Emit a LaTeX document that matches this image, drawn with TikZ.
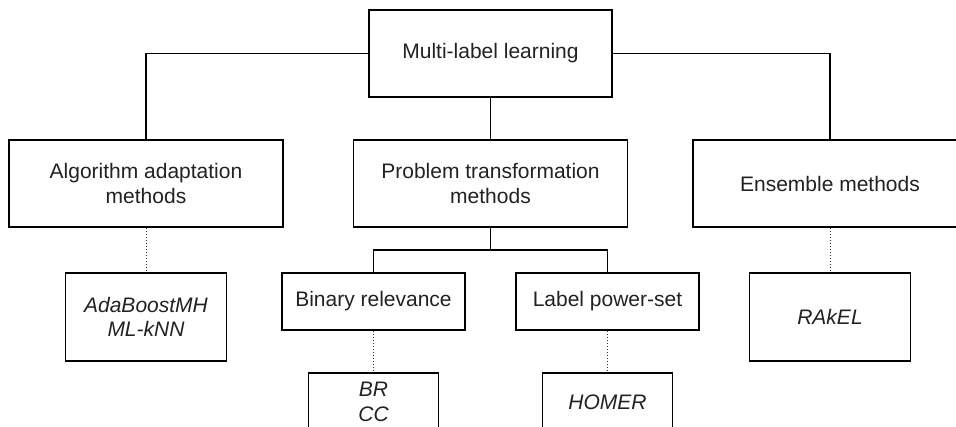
\documentclass[tikz,border=0pt]{standalone}
\usepackage{fontspec}
\setmainfont{Liberation Sans}
\definecolor{txt}{RGB}{34,34,34}
\begin{document}
\begin{tikzpicture}[x=1pt,y=-1pt,
  box/.style={draw=black, line width=1.5pt, inner sep=0pt, align=center, text=txt,
    font=\fontsize{21}{24.5}\selectfont},
  big/.style={box, minimum width=274pt, minimum height=87pt},
  leaf/.style={box, font=\fontsize{21}{24.5}\selectfont\itshape},
  link/.style={line width=1.5pt, black},
  dotlink/.style={line width=0.8pt, black!80, dash pattern=on 1.5pt off 1.5pt}]
\path[use as bounding box, clip] (0,0) rectangle (956,426);
\fill[white] (0,0) rectangle (956,426);
\node[box, minimum width=243pt, minimum height=87pt] (ml) at (490.5,53.5) {Multi-label learning};
\node[big] (aa) at (146,183.5) {Algorithm adaptation\\methods};
\node[big] (pt) at (490.5,183.5) {Problem transformation\\methods};
\node[big] (en) at (830,183.5) {Ensemble methods};
\node[leaf, minimum width=161pt, minimum height=88pt] (ada) at (146,317) {AdaBoostMH\\ML-kNN};
\node[box, minimum width=183pt, minimum height=57pt] (br) at (373.5,301.5) {Binary relevance};
\node[box, minimum width=183pt, minimum height=57pt] (lp) at (607.5,301.5) {Label power-set};
\node[leaf, minimum width=161pt, minimum height=88pt] (rk) at (830,317) {RAkEL};
\node[leaf, minimum width=130pt, minimum height=58pt] (brcc) at (373.5,402) {BR\\CC};
\node[leaf, minimum width=130pt, minimum height=58pt] (hom) at (607.5,402) {HOMER};
\coordinate (pj) at (490.5,250);
\draw[link] (ml.west) -| (aa.north);
\draw[link] (ml.east) -| (en.north);
\draw[link] (ml.south) -- (pt.north);
\draw[link] (pt.south) -- (pj);
\draw[link] (br.north) |- (pj) -| (lp.north);
\draw[dotlink] (aa.south) -- (ada.north);
\draw[dotlink] (en.south) -- (rk.north);
\draw[dotlink] (br.south) -- (brcc.north);
\draw[dotlink] (lp.south) -- (hom.north);
\end{tikzpicture}
\end{document}
